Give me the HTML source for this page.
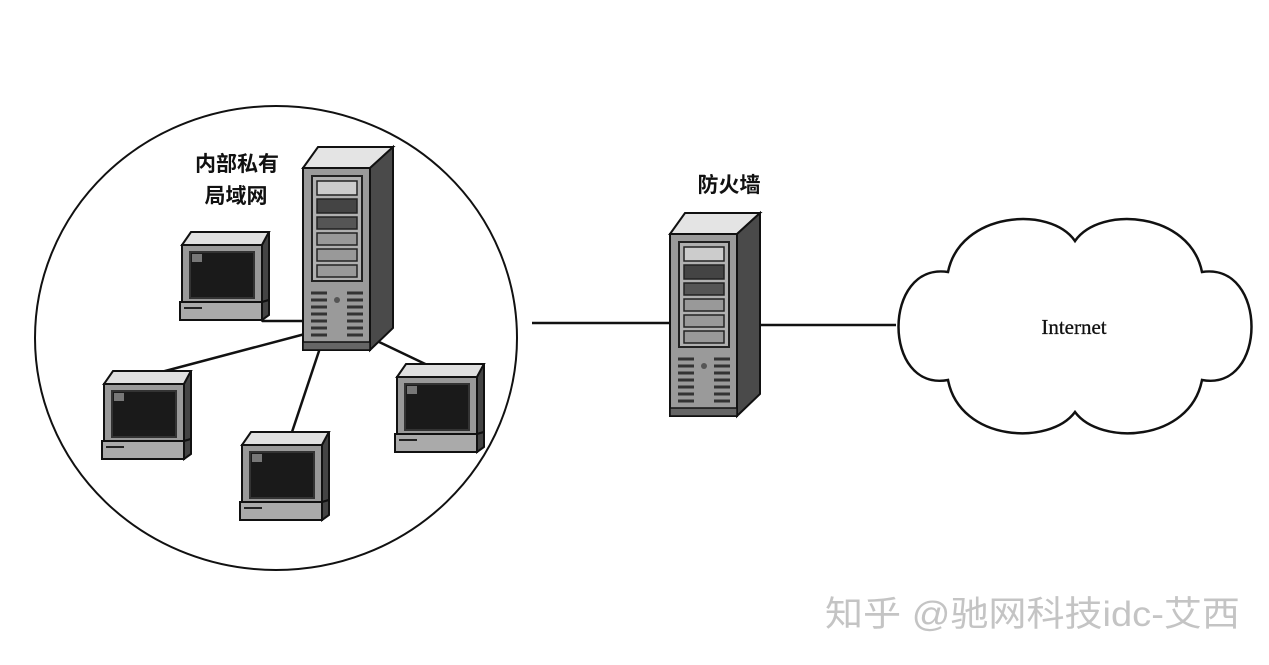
<!DOCTYPE html>
<html><head><meta charset="utf-8"><style>
html,body{margin:0;padding:0;background:#fff;}
svg{display:block;}
</style></head><body>
<svg width="1269" height="665" viewBox="0 0 1269 665" xmlns="http://www.w3.org/2000/svg">
<defs>
<g id="server">
  <polygon points="0,0 15,-21 90,-21 67,0" fill="#e4e4e4" stroke="#111" stroke-width="2"/>
  <polygon points="67,0 90,-21 90,160 67,182" fill="#4a4a4a" stroke="#111" stroke-width="2"/>
  <rect x="0" y="0" width="67" height="182" fill="#9a9a9a" stroke="#111" stroke-width="2"/>
  <rect x="9" y="8" width="50" height="105" fill="#b0b0b0" stroke="#222" stroke-width="2"/>
  <rect x="14" y="13" width="40" height="14" fill="#ccc" stroke="#222" stroke-width="1.5"/>
  <rect x="14" y="31" width="40" height="14" fill="#444" stroke="#222" stroke-width="1.5"/>
  <rect x="14" y="49" width="40" height="12" fill="#555" stroke="#222" stroke-width="1.5"/>
  <rect x="14" y="65" width="40" height="12" fill="#999" stroke="#222" stroke-width="1.5"/>
  <rect x="14" y="81" width="40" height="12" fill="#999" stroke="#222" stroke-width="1.5"/>
  <rect x="14" y="97" width="40" height="12" fill="#999" stroke="#222" stroke-width="1.5"/>
  <g stroke="#333" stroke-width="3">
    <line x1="8" y1="125" x2="24" y2="125"/><line x1="8" y1="132" x2="24" y2="132"/><line x1="8" y1="139" x2="24" y2="139"/><line x1="8" y1="146" x2="24" y2="146"/><line x1="8" y1="153" x2="24" y2="153"/><line x1="8" y1="160" x2="24" y2="160"/><line x1="8" y1="167" x2="24" y2="167"/>
    <line x1="44" y1="125" x2="60" y2="125"/><line x1="44" y1="132" x2="60" y2="132"/><line x1="44" y1="139" x2="60" y2="139"/><line x1="44" y1="146" x2="60" y2="146"/><line x1="44" y1="153" x2="60" y2="153"/><line x1="44" y1="160" x2="60" y2="160"/><line x1="44" y1="167" x2="60" y2="167"/>
  </g>
  <circle cx="34" cy="132" r="3" fill="#555"/>
  <rect x="0" y="174" width="67" height="8" fill="#666" stroke="#111" stroke-width="1.5"/>
</g>
<g id="pc">
  <polygon points="0,13 9,0 87,0 80,13" fill="#e0e0e0" stroke="#111" stroke-width="2"/>
  <polygon points="80,13 87,0 87,68 80,70" fill="#444" stroke="#111" stroke-width="2"/>
  <rect x="0" y="13" width="80" height="57" fill="#999" stroke="#111" stroke-width="2"/>
  <rect x="8" y="20" width="64" height="46" fill="#1a1a1a" stroke="#333" stroke-width="2"/>
  <rect x="10" y="22" width="10" height="8" fill="#777"/>
  <polygon points="80,70 87,68 87,83 80,88" fill="#444" stroke="#111" stroke-width="2"/>
  <rect x="-2" y="70" width="82" height="18" fill="#aaa" stroke="#111" stroke-width="2"/>
  <line x1="2" y1="76" x2="20" y2="76" stroke="#222" stroke-width="2"/>
</g>
</defs>

<ellipse cx="276" cy="338" rx="241" ry="232" fill="none" stroke="#111" stroke-width="2"/>

<g stroke="#111" stroke-width="2.5">
  <line x1="262" y1="321" x2="305" y2="321"/>
  <line x1="305" y1="334" x2="150" y2="375"/>
  <line x1="320" y1="348" x2="290" y2="438"/>
  <line x1="375" y1="340" x2="442" y2="372"/>
  <line x1="532" y1="323" x2="672" y2="323"/>
  <line x1="760" y1="325" x2="896" y2="325"/>
</g>

<use href="#server" x="303" y="168"/>
<use href="#server" x="670" y="234"/>

<use href="#pc" x="182" y="232"/>
<use href="#pc" x="104" y="371"/>
<use href="#pc" x="242" y="432"/>
<use href="#pc" x="397" y="364"/>

<text x="237" y="171" font-family="'Liberation Sans','Noto Sans CJK SC',sans-serif" font-size="21" font-weight="bold" text-anchor="middle" fill="#111">内部私有</text>
<text x="236" y="203" font-family="'Liberation Sans','Noto Sans CJK SC',sans-serif" font-size="21" font-weight="bold" text-anchor="middle" fill="#111">局域网</text>
<text x="729" y="192" font-family="'Liberation Sans','Noto Sans CJK SC',sans-serif" font-size="21" font-weight="bold" text-anchor="middle" fill="#111">防火墙</text>

<path d="M948,272 C960,212 1050,205 1075,241 C1100,205 1190,212 1202,272 C1268,262 1268,392 1202,380 C1190,442 1100,446 1075,412 C1050,446 960,442 948,380 C882,392 882,262 948,272 Z" fill="#fff" stroke="#111" stroke-width="2.5"/>
<text x="1074" y="334" font-family="'Liberation Serif',serif" font-size="21" text-anchor="middle" fill="#111" stroke="#111" stroke-width="0.3">Internet</text>

<text x="825" y="626" font-family="'Liberation Sans','Noto Sans CJK SC',sans-serif" font-size="35" fill="#c4c4c4" textLength="415" lengthAdjust="spacingAndGlyphs">知乎 @驰网科技idc-艾西</text>
</svg>
</body></html>
